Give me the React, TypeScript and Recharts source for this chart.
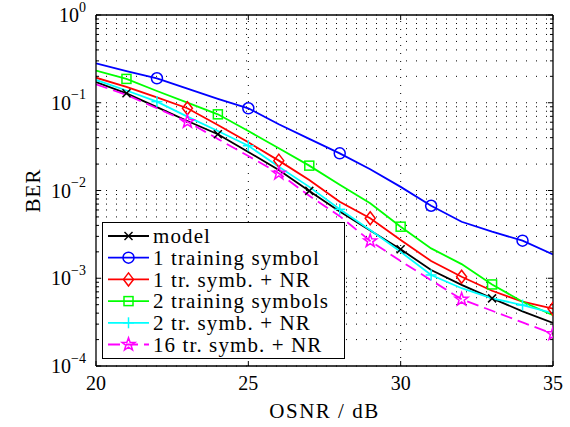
import React from 'react';
import { LineChart, Line, XAxis, YAxis, ReferenceLine, Legend } from 'recharts';

// OSNR in dB (one point per dB)
const osnr = [20, 21, 22, 23, 24, 25, 26, 27, 28, 29, 30, 31, 32, 33, 34, 35];

// BER curves
const model = [0.172, 0.128, 0.089, 0.062, 0.0437, 0.0275, 0.0171, 0.0099, 0.00575, 0.0035, 0.00214, 0.00124, 0.00084, 0.00059, 0.00042, 0.00031];
const oneTraining = [0.281, 0.23, 0.19, 0.145, 0.111, 0.0865, 0.0568, 0.0387, 0.0265, 0.0175, 0.011, 0.0067, 0.0044, 0.0034, 0.00268, 0.00187];
const oneTrNR = [0.193, 0.152, 0.115, 0.0865, 0.0558, 0.0354, 0.0219, 0.0132, 0.00746, 0.00482, 0.00273, 0.00157, 0.00104, 0.00072, 0.00054, 0.00045];
const twoTraining = [0.232, 0.187, 0.136, 0.1005, 0.0738, 0.0476, 0.0303, 0.0192, 0.0116, 0.00715, 0.00387, 0.00219, 0.00145, 0.00085, 0.00054, 0.00038];
const twoTrNR = [0.182, 0.138, 0.103, 0.0694, 0.0476, 0.0324, 0.0187, 0.011, 0.0061, 0.00355, 0.002, 0.00109, 0.00077, 0.00059, 0.000495, 0.0004];
const sixteenTrNR = [0.162, 0.123, 0.0865, 0.0608, 0.0387, 0.0247, 0.0157, 0.0087, 0.0051, 0.00266, 0.00157, 0.00095, 0.000575, 0.000426, 0.000314, 0.000232];

const xTicks = [20, 25, 30, 35];
const yTicks = [1e-4, 1e-3, 1e-2, 1e-1, 1];
const minorMult = [2, 3, 4, 5, 6, 7, 8, 9];
const yMinor = yTicks.slice(0, -1).flatMap((d) => minorMult.map((m) => m * d));

const FONT = '"Liberation Serif", "Times New Roman", serif';

const series = [
  { key: 'model', name: 'model', values: model, color: '#000000', marker: 'x', first: 1, dash: undefined },
  { key: 'one', name: '1 training symbol', values: oneTraining, color: '#0000ff', marker: 'o', first: 2, dash: undefined },
  { key: 'oneNR', name: '1 tr. symb. + NR', values: oneTrNR, color: '#ff0000', marker: 'd', first: 3, dash: undefined },
  { key: 'two', name: '2 training symbols', values: twoTraining, color: '#00ff00', marker: 's', first: 1, dash: undefined },
  { key: 'twoNR', name: '2 tr. symb. + NR', values: twoTrNR, color: '#00ffff', marker: '+', first: 2, dash: undefined },
  { key: 'sixteenNR', name: '16 tr. symb. + NR', values: sixteenTrNR, color: '#ff00ff', marker: 'p', first: 3, dash: '12 6' },
];

const data = osnr.map((x, i) => {
  const row: Record<string, number> = { osnr: x };
  series.forEach((s) => {
    row[s.key] = s.values[i];
  });
  return row;
});

function Marker({ shape, cx, cy, color }: { shape: string; cx: number; cy: number; color: string }) {
  const common = { fill: 'none', stroke: color, strokeWidth: 1.5 };
  switch (shape) {
    case 'x':
      return (
        <g {...common}>
          <line x1={cx - 4} y1={cy - 4} x2={cx + 4} y2={cy + 4} />
          <line x1={cx - 4} y1={cy + 4} x2={cx + 4} y2={cy - 4} />
        </g>
      );
    case 'o':
      return <circle cx={cx} cy={cy} r={5.5} {...common} />;
    case 'd':
      return <polygon points={`${cx},${cy - 6.5} ${cx + 5},${cy} ${cx},${cy + 6.5} ${cx - 5},${cy}`} {...common} />;
    case 's':
      return <rect x={cx - 4.5} y={cy - 4.5} width={9} height={9} {...common} />;
    case '+':
      return (
        <g {...common}>
          <line x1={cx - 5.5} y1={cy} x2={cx + 5.5} y2={cy} />
          <line x1={cx} y1={cy - 5.5} x2={cx} y2={cy + 5.5} />
        </g>
      );
    case 'p': {
      const pts: string[] = [];
      for (let k = 0; k < 10; k++) {
        const r = k % 2 === 0 ? 6.8 : 2.7;
        const a = -Math.PI / 2 + (k * Math.PI) / 5;
        pts.push(`${cx + r * Math.cos(a)},${cy + r * Math.sin(a)}`);
      }
      return <polygon points={pts.join(' ')} {...common} />;
    }
    default:
      return null;
  }
}

const XTick = (props: any) => {
  const { x, y, payload } = props;
  return (
    <text x={x} y={y} dy="0.71em" textAnchor="middle" fontFamily={FONT} fontSize={20} fill="#000">
      {payload.value}
    </text>
  );
};

const YTick = (props: any) => {
  const { x, y, payload } = props;
  const exp = Math.round(Math.log10(payload.value));
  return (
    <text x={x} y={y} textAnchor="end" fontFamily={FONT} fontSize={20} fill="#000">
      <tspan dy="0.35em">10</tspan>
      <tspan dy="-0.75em" fontSize={14}>{exp === 0 ? '0' : '\u2212' + -exp}</tspan>
    </text>
  );
};

const LegendBox = () => (
  <svg width={243} height={137} style={{ display: 'block' }}>
    <rect x={0.5} y={0.5} width={242} height={136} fill="#fff" stroke="#000" strokeWidth={1} />
    {series.map((s, i) => {
      const y = 14 + i * 21.7;
      return (
        <g key={s.key}>
          <line x1={6} y1={y} x2={47} y2={y} stroke={s.color} strokeWidth={1.8} strokeDasharray={s.dash} />
          <Marker shape={s.marker} cx={26.5} cy={y} color={s.color} />
          <text x={51} y={y} dy="0.35em" fontFamily={FONT} fontSize={21} letterSpacing={1.1} fill="#000">
            {s.name}
          </text>
        </g>
      );
    })}
  </svg>
);

export default function App() {
  return (
    <div style={{ position: 'absolute', left: 0, top: 0, width: 570, height: 427, background: '#fff' }}>
      <LineChart width={570} height={427} data={data} margin={{ top: 15, right: 17, left: 0, bottom: 0 }}>
        <XAxis
          dataKey="osnr"
          type="number"
          domain={[20, 35]}
          ticks={xTicks}
          allowDataOverflow
          height={61}
          axisLine={false}
          tickLine={false}
          tickSize={8}
          tickMargin={2}
          tick={<XTick />}
          label={(p: any) => (
            <text
              x={p.viewBox.x + p.viewBox.width / 2}
              y={p.viewBox.y + 52}
              textAnchor="middle"
              fontFamily={FONT}
              fontSize={21}
              letterSpacing={1.5}
              fill="#000"
            >
              OSNR / dB
            </text>
          )}
        />
        <YAxis
          type="number"
          scale="log"
          domain={[1e-4, 1]}
          ticks={yTicks}
          allowDataOverflow
          width={96}
          axisLine={false}
          tickLine={false}
          tickSize={8}
          tickMargin={2}
          tick={<YTick />}
          label={(p: any) => {
            const cx = p.viewBox.x + 33;
            const cy = p.viewBox.y + p.viewBox.height / 2;
            return (
              <text
                x={cx}
                y={cy}
                dy="0.35em"
                textAnchor="middle"
                transform={`rotate(-90 ${cx} ${cy})`}
                fontFamily={FONT}
                fontSize={21}
                letterSpacing={1}
                fill="#000"
              >
                BER
              </text>
            );
          }}
        />

        {/* dotted grid */}
        {[...yMinor, ...yTicks].map((v) => (
          <ReferenceLine key={`gy-${v}`} y={v} stroke="#000" strokeWidth={1} strokeDasharray="1 9" />
        ))}
        {xTicks.slice(1, -1).map((v) => (
          <ReferenceLine key={`gx-${v}`} x={v} stroke="#000" strokeWidth={1} strokeDasharray="1 7" />
        ))}

        {series.map((s) => (
          <Line
            key={s.key}
            dataKey={s.key}
            name={s.name}
            type="linear"
            stroke={s.color}
            strokeWidth={1.8}
            strokeDasharray={s.dash}
            isAnimationActive={false}
            activeDot={false}
            dot={(p: any) =>
              p.index >= s.first && (p.index - s.first) % 3 === 0 ? (
                <Marker key={`m-${s.key}-${p.index}`} shape={s.marker} cx={p.cx} cy={p.cy} color={s.color} />
              ) : (
                <g key={`m-${s.key}-${p.index}`} />
              )
            }
          />
        ))}

        {/* inward ticks */}
        {yTicks.map((v) => (
          <ReferenceLine key={`tl-${v}`} segment={[{ x: 20, y: v }, { x: 20.17, y: v }]} stroke="#000" strokeWidth={1} />
        ))}
        {yTicks.map((v) => (
          <ReferenceLine key={`tr-${v}`} segment={[{ x: 34.83, y: v }, { x: 35, y: v }]} stroke="#000" strokeWidth={1} />
        ))}
        {yMinor.map((v) => (
          <ReferenceLine key={`ml-${v}`} segment={[{ x: 20, y: v }, { x: 20.1, y: v }]} stroke="#000" strokeWidth={1} />
        ))}
        {yMinor.map((v) => (
          <ReferenceLine key={`mr-${v}`} segment={[{ x: 34.9, y: v }, { x: 35, y: v }]} stroke="#000" strokeWidth={1} />
        ))}
        {xTicks.map((v) => (
          <ReferenceLine key={`tb-${v}`} segment={[{ x: v, y: 1e-4 }, { x: v, y: 1.14e-4 }]} stroke="#000" strokeWidth={1} />
        ))}
        {xTicks.map((v) => (
          <ReferenceLine key={`tt-${v}`} segment={[{ x: v, y: 1 }, { x: v, y: 0.877 }]} stroke="#000" strokeWidth={1} />
        ))}

        {/* axes box */}
        <ReferenceLine x={20} stroke="#000" strokeWidth={1.3} />
        <ReferenceLine x={35} stroke="#000" strokeWidth={1.3} />
        <ReferenceLine y={1e-4} stroke="#000" strokeWidth={1.3} />
        <ReferenceLine y={1} stroke="#000" strokeWidth={1.3} />

        <Legend
          layout="vertical"
          align="center"
          verticalAlign="middle"
          content={() => <LegendBox />}
          wrapperStyle={{ left: 102, top: 222, width: 243, height: 137 }}
        />
      </LineChart>
    </div>
  );
}
